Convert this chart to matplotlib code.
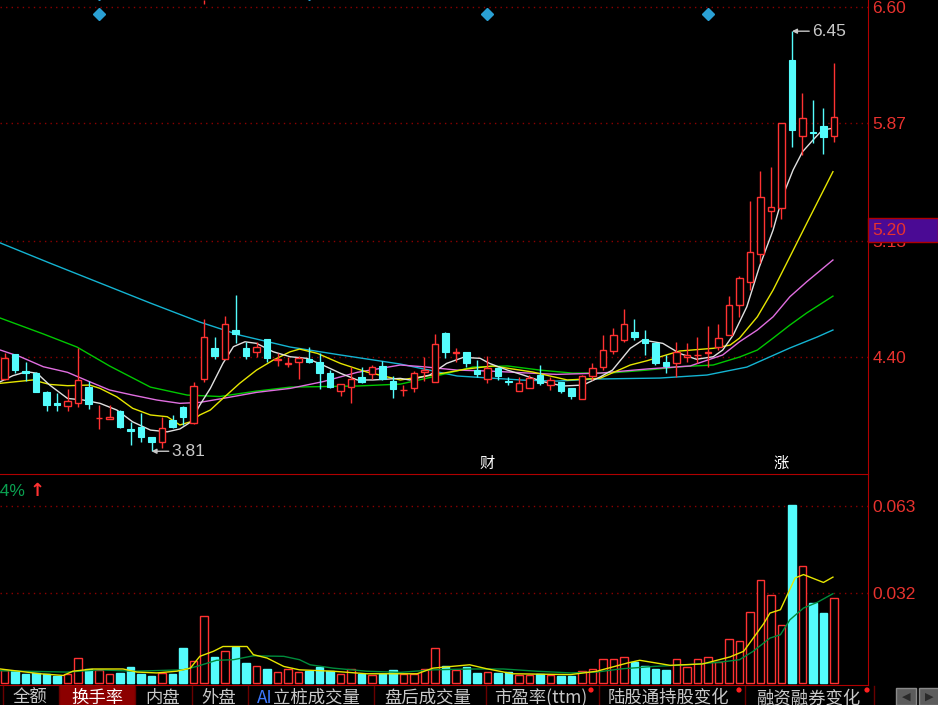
#!/usr/bin/env python3
"""K-line screen with turnover-rate subchart (换手率), dark trading-terminal style."""
import matplotlib

matplotlib.use("Agg")
import matplotlib.pyplot as plt  # noqa: E402
from matplotlib.patches import Rectangle, Circle  # noqa: E402
from matplotlib.transforms import blended_transform_factory  # noqa: E402

plt.rcParams["font.family"] = ["Liberation Sans", "Noto Sans CJK SC", "DejaVu Sans"]

# ---- daily candles ----
OPEN = [4.264, 4.419, 4.314, 4.300, 4.184, 4.113, 4.096, 4.111, 4.215, 4.019,
        4.012, 4.063, 3.950, 3.964, 3.901, 3.870, 4.006, 4.090, 3.985, 4.264,
        4.457, 4.390, 4.572, 4.457, 4.435, 4.515, 4.386, 4.361, 4.369, 4.390,
        4.369, 4.300, 4.188, 4.215, 4.278, 4.293, 4.346, 4.253, 4.192, 4.205,
        4.308, 4.247, 4.555, 4.427, 4.435, 4.320, 4.262, 4.331, 4.254, 4.188,
        4.209, 4.289, 4.226, 4.243, 4.205, 4.138, 4.283, 4.341, 4.442, 4.509,
        4.561, 4.513, 4.492, 4.373, 4.362, 4.405, 4.412, 4.427, 4.463, 4.540,
        4.729, 4.875, 5.048, 5.322, 5.337, 6.269, 5.791, 5.816, 5.854, 5.791]
HIGH = [4.427, 4.421, 4.371, 4.308, 4.188, 4.176, 4.201, 4.457, 4.251, 4.100,
        4.100, 4.069, 3.994, 4.048, 3.901, 4.027, 4.038, 4.094, 4.243, 4.641,
        4.526, 4.662, 4.792, 4.494, 4.498, 4.515, 4.425, 4.404, 4.410, 4.467,
        4.425, 4.320, 4.232, 4.341, 4.341, 4.352, 4.377, 4.285, 4.226, 4.316,
        4.404, 4.547, 4.561, 4.457, 4.435, 4.383, 4.408, 4.337, 4.278, 4.278,
        4.289, 4.352, 4.278, 4.245, 4.207, 4.289, 4.366, 4.540, 4.582, 4.704,
        4.639, 4.572, 4.496, 4.415, 4.498, 4.488, 4.530, 4.599, 4.609, 4.787,
        4.911, 5.383, 5.573, 5.598, 5.873, 6.450, 6.060, 6.017, 5.965, 6.252]
LOW = [4.257, 4.301, 4.251, 4.182, 4.063, 4.063, 4.063, 4.090, 4.075, 3.950,
       4.012, 3.956, 3.849, 3.870, 3.810, 3.828, 3.954, 3.975, 3.979, 4.245,
       4.390, 4.390, 4.488, 4.390, 4.404, 4.373, 4.347, 4.337, 4.264, 4.362,
       4.201, 4.209, 4.159, 4.111, 4.237, 4.264, 4.258, 4.142, 4.157, 4.184,
       4.251, 4.247, 4.394, 4.373, 4.337, 4.278, 4.237, 4.258, 4.226, 4.188,
       4.209, 4.226, 4.195, 4.178, 4.138, 4.138, 4.258, 4.320, 4.421, 4.498,
       4.509, 4.415, 4.352, 4.300, 4.274, 4.373, 4.362, 4.341, 4.446, 4.540,
       4.655, 4.823, 4.991, 5.217, 5.268, 5.724, 5.672, 5.745, 5.678, 5.755]
CLOSE = [4.396, 4.320, 4.301, 4.184, 4.100, 4.103, 4.127, 4.258, 4.105, 4.022,
         4.027, 3.964, 3.937, 3.901, 3.866, 3.958, 3.964, 4.027, 4.222, 4.530,
         4.410, 4.608, 4.545, 4.410, 4.465, 4.398, 4.391, 4.364, 4.398, 4.369,
         4.300, 4.215, 4.230, 4.264, 4.243, 4.341, 4.264, 4.201, 4.198, 4.300,
         4.320, 4.484, 4.432, 4.434, 4.366, 4.295, 4.331, 4.283, 4.248, 4.241,
         4.268, 4.237, 4.258, 4.190, 4.157, 4.283, 4.335, 4.446, 4.540, 4.610,
         4.526, 4.488, 4.366, 4.346, 4.435, 4.412, 4.418, 4.434, 4.520, 4.729,
         4.897, 5.060, 5.410, 5.343, 5.871, 5.829, 5.902, 5.810, 5.783, 5.909]

# ---- turnover rate per day ----
TURNOVER = [0.0047, 0.0044, 0.0031, 0.0037, 0.0033, 0.0025, 0.0031, 0.0088, 0.0051, 0.0047,
            0.0031, 0.0037, 0.0057, 0.0031, 0.0025, 0.0037, 0.0033, 0.0126, 0.0077, 0.0237,
            0.0094, 0.0115, 0.0129, 0.0072, 0.0060, 0.0051, 0.0040, 0.0051, 0.0040, 0.0043,
            0.0057, 0.0043, 0.0031, 0.0050, 0.0031, 0.0027, 0.0033, 0.0045, 0.0031, 0.0033,
            0.0050, 0.0125, 0.0060, 0.0047, 0.0057, 0.0036, 0.0040, 0.0036, 0.0039, 0.0030,
            0.0030, 0.0033, 0.0030, 0.0025, 0.0025, 0.0044, 0.0050, 0.0087, 0.0087, 0.0091,
            0.0075, 0.0060, 0.0051, 0.0046, 0.0087, 0.0058, 0.0087, 0.0091, 0.0074, 0.0157,
            0.0151, 0.0253, 0.0365, 0.0312, 0.0205, 0.0632, 0.0418, 0.0286, 0.0248, 0.0301]

# ---- moving averages as drawn (sampled: candle index, value) ----
MA5_IDX = [-0.4, 0.8, 2.1, 3.1, 4.3, 6.0, 7.5, 9.1, 10.7, 12.2, 13.9, 15.5, 16.7, 17.7,
           18.6, 19.6, 20.8, 21.8, 22.9, 24.0, 25.6, 27.2, 28.8, 30.3, 32.0, 33.6, 35.1,
           37.7, 38.6, 40.5, 42.1, 43.7, 45.3, 46.2, 47.9, 49.4, 51.3, 53.2, 55.1, 56.7,
           57.9, 59.6, 60.8, 62.7, 64.3, 65.9, 67.5, 68.4, 69.4, 70.7, 71.9, 73.2, 74.1,
           75.1, 76.0, 77.0, 77.9, 78.9]
MA5_VAL = [4.247, 4.285, 4.310, 4.300, 4.226, 4.142, 4.132, 4.111, 4.069, 3.995, 3.943,
           3.932, 3.950, 3.992, 4.100, 4.205, 4.362, 4.467, 4.498, 4.488, 4.435, 4.404,
           4.394, 4.352, 4.300, 4.258, 4.258, 4.268, 4.258, 4.289, 4.362, 4.400, 4.394,
           4.362, 4.320, 4.289, 4.247, 4.220, 4.226, 4.276, 4.320, 4.457, 4.509, 4.488,
           4.425, 4.388, 4.404, 4.446, 4.540, 4.718, 4.970, 5.200, 5.410, 5.577, 5.692,
           5.766, 5.829, 5.840]
MA10_IDX = [-0.4, 2.7, 4.3, 6.0, 8.1, 9.1, 10.7, 12.2, 13.9, 15.5, 16.7, 17.7, 18.6, 19.6,
            20.8, 22.4, 24.0, 25.6, 27.2, 28.1, 29.8, 32.0, 34.5, 37.7, 40.8, 44.0, 46.5,
            50.3, 53.6, 56.7, 59.6, 61.2, 64.3, 67.5, 69.1, 70.0, 71.7, 73.2, 74.8, 76.4, 78.9]
MA10_VAL = [4.237, 4.258, 4.230, 4.222, 4.226, 4.205, 4.152, 4.080, 4.038, 4.027, 3.975,
            3.995, 4.038, 4.069, 4.142, 4.237, 4.320, 4.383, 4.435, 4.452, 4.425, 4.362,
            4.308, 4.258, 4.289, 4.327, 4.346, 4.308, 4.258, 4.268, 4.352, 4.379, 4.440,
            4.457, 4.477, 4.521, 4.655, 4.823, 5.032, 5.242, 5.567]
MA20_IDX = [-0.4, 1.5, 3.7, 6.0, 8.1, 10.0, 12.2, 14.5, 16.7, 18.6, 20.8, 24.0, 27.2, 30.3,
            33.6, 37.7, 39.9, 43.1, 46.2, 49.4, 52.6, 56.7, 61.2, 65.3, 68.4, 70.0, 71.7,
            73.2, 74.8, 76.4, 78.9]
MA20_VAL = [4.446, 4.404, 4.341, 4.306, 4.247, 4.195, 4.163, 4.132, 4.111, 4.117, 4.142,
            4.180, 4.205, 4.247, 4.306, 4.352, 4.341, 4.320, 4.314, 4.303, 4.293, 4.301,
            4.327, 4.346, 4.415, 4.498, 4.572, 4.655, 4.781, 4.875, 5.012]
MA30_IDX = [-0.4, 3.7, 6.9, 10.0, 13.9, 17.4, 20.5, 24.0, 27.2, 33.6, 37.7, 39.9, 41.5,
            44.6, 47.9, 51.0, 54.1, 57.9, 61.2, 64.3, 67.5, 70.0, 71.7, 73.2, 74.8, 76.4, 78.9]
MA30_VAL = [4.647, 4.547, 4.465, 4.346, 4.213, 4.163, 4.154, 4.188, 4.213, 4.220, 4.232,
            4.264, 4.289, 4.339, 4.346, 4.320, 4.301, 4.303, 4.320, 4.341, 4.352, 4.402,
            4.446, 4.521, 4.603, 4.679, 4.785]
MA60_IDX = [-0.4, 4.3, 9.1, 13.9, 18.6, 22.4, 27.2, 32.0, 37.7, 43.1, 49.4, 52.6, 56.4,
            62.4, 66.9, 70.7, 74.8, 77.4, 78.9]
MA60_VAL = [5.119, 4.993, 4.867, 4.741, 4.622, 4.540, 4.465, 4.415, 4.358, 4.283, 4.257,
            4.251, 4.264, 4.270, 4.289, 4.339, 4.459, 4.528, 4.572]

TO_MA5_IDX = [-0.4, 3.4, 5.6, 6.5, 8.4, 11.3, 12.6, 14.5, 16.4, 17.7, 18.6, 19.9, 20.8,
              23.1, 23.7, 25.0, 26.6, 28.1, 31.3, 34.5, 39.3, 40.8, 44.3, 45.9, 48.4,
              53.9, 56.4, 59.3, 60.5, 63.4, 66.5, 69.1, 70.4, 72.3, 72.9, 73.9, 75.3,
              76.1, 78.0, 78.9]
TO_MA5_VAL = [0.0050, 0.0033, 0.0027, 0.0042, 0.0050, 0.0050, 0.0039, 0.0036, 0.0042,
              0.0053, 0.0095, 0.0113, 0.0130, 0.0130, 0.0101, 0.0089, 0.0059, 0.0047,
              0.0042, 0.0033, 0.0033, 0.0053, 0.0065, 0.0051, 0.0033, 0.0030, 0.0042,
              0.0071, 0.0081, 0.0063, 0.0068, 0.0093, 0.0113, 0.0211, 0.0249, 0.0261,
              0.0374, 0.0386, 0.0358, 0.0377]
TO_MA10_IDX = [-0.4, 5.9, 9.1, 12.3, 17.0, 18.3, 20.2, 21.8, 23.7, 26.6, 28.1, 29.1, 31.3,
               34.5, 37.7, 40.8, 44.3, 47.5, 50.7, 53.9, 56.4, 58.6, 61.8, 65.0, 68.1,
               70.0, 71.3, 72.9, 73.9, 74.8, 76.1, 77.4, 78.9]
TO_MA10_VAL = [0.0044, 0.0039, 0.0047, 0.0042, 0.0047, 0.0059, 0.0081, 0.0083, 0.0097,
               0.0095, 0.0083, 0.0065, 0.0053, 0.0042, 0.0038, 0.0047, 0.0050, 0.0050,
               0.0042, 0.0036, 0.0039, 0.0050, 0.0059, 0.0065, 0.0074, 0.0083, 0.0113,
               0.0160, 0.0172, 0.0225, 0.0267, 0.0287, 0.0318]

PRICE_TICKS = [6.60, 5.87, 5.13, 4.40]
TURN_TICKS = [0.032, 0.063]
LAST_LABEL = 5.20
EVENT_DIAMONDS = [9, 46, 67]
EVENT_TEXT = [(46, "财"), (74, "涨")]
TABS = ["全额", "换手率", "内盘", "外盘", "AI立桩成交量", "盘后成交量",
        "市盈率(ttm)", "陆股通持股变化", "融资融券变化"]

UP = "#ff3232"
DOWN = "#54fcfc"
AXRED = "#b00000"
LBLRED = "#e8322e"
GRID = "#8c0000"

W, H = 938, 705


def frac(x0, y0, x1, y1):
    return [x0 / W, 1 - y1 / H, (x1 - x0) / W, (y1 - y0) / H]


fig = plt.figure(figsize=(W / 100, H / 100), dpi=100, facecolor="black")
ax = fig.add_axes(frac(0, 0, 868, 474))
axv = fig.add_axes(frac(0, 474, 868, 685))
ov = fig.add_axes([0, 0, 1, 1], zorder=5)
ov.set_xlim(0, W)
ov.set_ylim(H, 0)
ov.axis("off")

XLIM = (-0.43, 82.24)
for a in (ax, axv):
    a.set_facecolor("black")
    a.set_xlim(*XLIM)
    a.set_xticks([])
    a.spines["left"].set_visible(False)
    for s in ("top", "right", "bottom"):
        a.spines[s].set_color(AXRED)
    a.yaxis.tick_right()
    a.tick_params(axis="y", colors=LBLRED, length=0, pad=3, labelsize=12.5)
ax.spines["top"].set_visible(False)
ax.spines["bottom"].set_visible(False)

# ---- main price panel ----
ax.set_ylim(3.667, 6.646)
for v in PRICE_TICKS:
    ax.axhline(v, color=GRID, lw=1, ls=(0, (1, 3)), zorder=0)
ax.set_yticks(PRICE_TICKS)
ax.set_yticklabels([f"{v:.2f}" for v in PRICE_TICKS])

ma_style = [(MA60_IDX, MA60_VAL, "#14b4d2"), (MA30_IDX, MA30_VAL, "#00c800"),
            (MA20_IDX, MA20_VAL, "#e06ee0"), (MA10_IDX, MA10_VAL, "#e6e600"),
            (MA5_IDX, MA5_VAL, "#e0e0e0")]
for xs, ys, col in ma_style:
    ax.plot(xs, ys, color=col, lw=1.0, zorder=3)

bw = 0.66
for i, (o, h, l, c) in enumerate(zip(OPEN, HIGH, LOW, CLOSE)):
    top, bot = max(o, c), min(o, c)
    body = max(top - bot, 0.003)
    if c >= o:
        ax.vlines(i, top, h, color=UP, lw=1, zorder=4)
        ax.vlines(i, l, bot, color=UP, lw=1, zorder=4)
        ax.add_patch(Rectangle((i - bw / 2, bot), bw, body, fc="black", ec=UP,
                               lw=1, zorder=4))
    else:
        ax.vlines(i, l, h, color=DOWN, lw=1, zorder=4)
        ax.add_patch(Rectangle((i - bw / 2, bot), bw, body, fc=DOWN, ec=DOWN,
                               lw=0.8, zorder=4))

# high / low callouts
imax = HIGH.index(max(HIGH))
imin = LOW.index(min(LOW))
for idx, val in ((imax, HIGH[imax]), (imin, LOW[imin])):
    ax.annotate(f"{val:.2f}", xy=(idx, val), xytext=(20, 0), textcoords="offset pixels",
                ha="left", va="center", color="#c8c8c8", fontsize=12.5, zorder=6,
                arrowprops=dict(arrowstyle="-|>", color="#c8c8c8", lw=1, shrinkA=0,
                                shrinkB=0, mutation_scale=7, relpos=(0, 0.5)))

# event markers along the top
tr = blended_transform_factory(ax.transData, ax.transAxes)
ax.plot(EVENT_DIAMONDS, [0.970] * len(EVENT_DIAMONDS), "D", color="#2aa0d4", ms=5.8,
        transform=tr, zorder=5)
ax.plot([9, 29], [1.013, 1.013], "D", color="#2aa0d4", ms=5.8, transform=tr, zorder=5)
ax.vlines(19, 0.992, 1.0, color=UP, lw=1, transform=tr)
for idx, ch in EVENT_TEXT:
    ax.text(idx, 0.022, ch, transform=tr, ha="center", va="center", color="white",
            fontsize=11, family=["Noto Sans CJK SC"], zorder=6)

# last-price tag on the axis
tagh = 0.078
trr = blended_transform_factory(ax.transAxes, ax.transData)
ax.add_patch(Rectangle((1.0, LAST_LABEL - tagh), 70 / 868, 2 * tagh, fc="#4a0a94",
                       ec=AXRED, lw=1, transform=trr, clip_on=False, zorder=10))
ax.text(1.0 + 4 / 868, LAST_LABEL, f"{LAST_LABEL:.2f}", transform=trr, ha="left",
        va="center", color=LBLRED, fontsize=12.5, clip_on=False, zorder=11)

# ---- turnover panel ----
axv.set_ylim(-0.0007, 0.0744)
for v in TURN_TICKS:
    axv.axhline(v, color=GRID, lw=1, ls=(0, (1, 3)), zorder=0)
axv.set_yticks(TURN_TICKS)
axv.set_yticklabels([f"{v:.3f}" for v in TURN_TICKS])
up = [c >= o for o, c in zip(OPEN, CLOSE)]
xs = list(range(len(TURNOVER)))
axv.bar(xs, TURNOVER, width=0.68, color=["black" if u else DOWN for u in up],
        edgecolor=[UP if u else DOWN for u in up], lw=1, zorder=2)
axv.plot(TO_MA10_IDX, TO_MA10_VAL, color="#008c3c", lw=1.0, zorder=3)
axv.plot(TO_MA5_IDX, TO_MA5_VAL, color="#e6e600", lw=1.0, zorder=4)

ov.text(26, 491, "14%", ha="right", va="center", color="#0aa050", fontsize=12.5)
ov.text(30, 491, "↑", ha="left", va="center", color=UP, fontsize=13, fontweight="bold",
        family=["DejaVu Sans"])

# ---- tab bar ----
seps = [3, 59, 135, 192, 248, 374, 486, 599, 745, 874]
centers = [30, 97, 163, 219, 0, 428, 541, 668, 808]
ov.add_patch(Rectangle((59, 686), 76, 19, fc="#8c0000", ec="none"))
for x in seps:
    ov.plot([x, x], [686, 705], color="#6a0000", lw=1)
for k, (name, cx) in enumerate(zip(TABS, centers)):
    if name.startswith("AI"):
        ov.text(257, 698, "AI", ha="left", va="center", color="#3c78ff", fontsize=12.5,
                family=["Noto Sans CJK SC"])
        ov.text(273, 698, name[2:], ha="left", va="center", color="#c8c8c8",
                fontsize=12.5, family=["Noto Sans CJK SC"])
        continue
    ov.text(cx, 698, name, ha="center", va="center",
            color="white" if k == 1 else "#c8c8c8", fontsize=12.5,
            family=["Noto Sans CJK SC", "DejaVu Sans"])
for x in (591, 739, 867):
    ov.add_patch(Circle((x, 690), 2.6, fc="#ff2020", ec="none"))
for x0, glyph in ((896, "◀"), (919, "▶")):
    ov.add_patch(Rectangle((x0, 688), 20, 17, fc="#5c5c5c", ec="#8a8a8a", lw=1))
    ov.text(x0 + 10, 697, glyph, ha="center", va="center", color="#2a2a2a", fontsize=8,
            family=["DejaVu Sans"])

fig.savefig("out.png", dpi=100, facecolor="black")
